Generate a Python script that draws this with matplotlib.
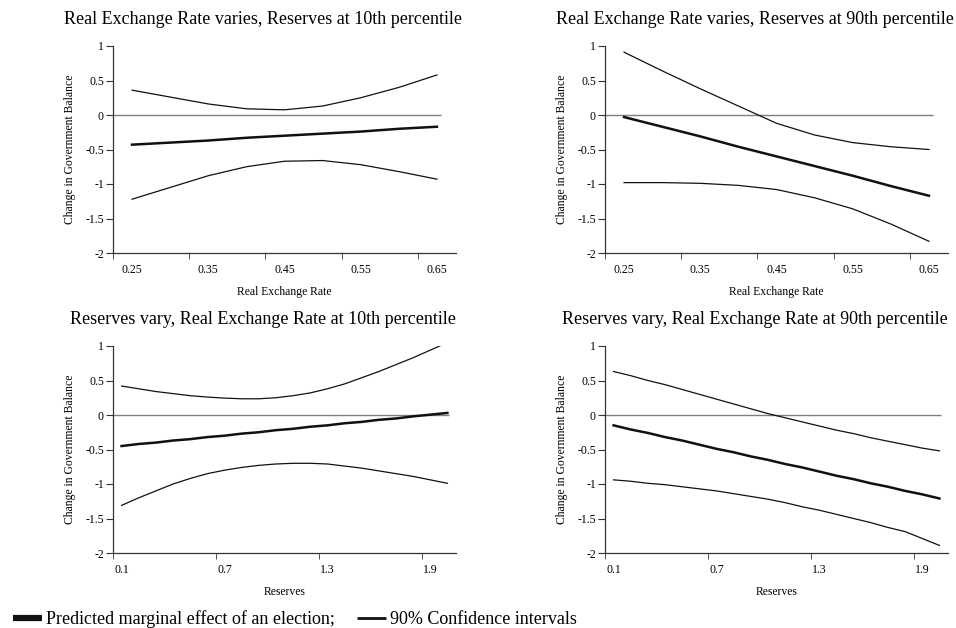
import matplotlib
matplotlib.use("Agg")
import matplotlib.pyplot as plt
from matplotlib.lines import Line2D
import numpy as np

plt.rcParams['font.family'] = ['Liberation Serif', 'DejaVu Serif']

# real exchange rate grid (top panels)
rer = [0.25, 0.30, 0.35, 0.40, 0.45, 0.50, 0.55, 0.60, 0.65]
# reserves grid (bottom panels)
res = [0.1, 0.2, 0.3, 0.4, 0.5, 0.6, 0.7, 0.8, 0.9, 1.0,
       1.1, 1.2, 1.3, 1.4, 1.5, 1.6, 1.7, 1.8, 1.9, 2.0]

# Real exchange rate varies, reserves at 10th percentile
tl_mid = [-0.43, -0.40, -0.37, -0.33, -0.30, -0.27, -0.24, -0.20, -0.17]
tl_hi = [0.36, 0.26, 0.16, 0.09, 0.075, 0.13, 0.25, 0.40, 0.58]
tl_lo = [-1.22, -1.05, -0.88, -0.75, -0.67, -0.66, -0.72, -0.82, -0.93]

# Real exchange rate varies, reserves at 90th percentile
tr_mid = [-0.03, -0.17, -0.31, -0.46, -0.60, -0.74, -0.88, -1.03, -1.17]
tr_hi = [0.91, 0.64, 0.38, 0.13, -0.12, -0.29, -0.40, -0.46, -0.50]
tr_lo = [-0.98, -0.98, -0.99, -1.02, -1.08, -1.20, -1.36, -1.58, -1.83]

# Reserves vary, real exchange rate at 10th percentile
bl_mid = [-0.45, -0.42, -0.40, -0.37, -0.35, -0.32, -0.30, -0.27, -0.25, -0.22,
          -0.20, -0.17, -0.15, -0.12, -0.10, -0.07, -0.05, -0.02, 0.005, 0.03]
bl_hi = [0.42, 0.38, 0.34, 0.31, 0.28, 0.26, 0.245, 0.235, 0.235, 0.25,
         0.28, 0.32, 0.38, 0.45, 0.54, 0.63, 0.73, 0.83, 0.94, 1.05]
bl_lo = [-1.31, -1.20, -1.10, -1.00, -0.92, -0.85, -0.80, -0.76, -0.73, -0.71,
         -0.70, -0.70, -0.71, -0.74, -0.77, -0.81, -0.85, -0.89, -0.94, -0.99]

# Reserves vary, real exchange rate at 90th percentile
br_mid = [-0.15, -0.21, -0.26, -0.32, -0.37, -0.43, -0.49, -0.54, -0.60, -0.65,
          -0.71, -0.76, -0.82, -0.88, -0.93, -0.99, -1.04, -1.10, -1.15, -1.21]
br_hi = [0.63, 0.57, 0.50, 0.44, 0.37, 0.30, 0.23, 0.16, 0.09, 0.02,
         -0.04, -0.10, -0.16, -0.22, -0.27, -0.33, -0.38, -0.43, -0.48, -0.52]
br_lo = [-0.94, -0.96, -0.99, -1.01, -1.04, -1.07, -1.10, -1.14, -1.18, -1.22,
         -1.27, -1.33, -1.38, -1.44, -1.50, -1.56, -1.63, -1.69, -1.79, -1.89]

rer_labels = ['0.25', '0.35', '0.45', '0.55', '0.65']
res_labels = ['0.1', '0.7', '1.3', '1.9']
yticks = [1, 0.5, 0, -0.5, -1, -1.5, -2]
ylabels = ['1', '0.5', '0', '-0.5', '-1', '-1.5', '-2']

panels = [
    ("Real Exchange Rate varies, Reserves at 10th percentile", rer, tl_mid, tl_hi, tl_lo,
     "Real Exchange Rate", rer_labels, 2),
    ("Real Exchange Rate varies, Reserves at 90th percentile", rer, tr_mid, tr_hi, tr_lo,
     "Real Exchange Rate", rer_labels, 2),
    ("Reserves vary, Real Exchange Rate at 10th percentile", res, bl_mid, bl_hi, bl_lo,
     "Reserves", res_labels, 6),
    ("Reserves vary, Real Exchange Rate at 90th percentile", res, br_mid, br_hi, br_lo,
     "Reserves", res_labels, 6),
]

W, H = 956, 628
fig = plt.figure(figsize=(W / 100, H / 100), dpi=100)

# axes boxes in pixels: left, top
boxes = [(113, 46), (605, 46), (113, 346), (605, 346)]
aw, ah = 343, 207

for (title, x, mid, hi, lo, xlab, xtl, every), (px, py) in zip(panels, boxes):
    ax = fig.add_axes([px / W, 1 - (py + ah) / H, aw / W, ah / H])
    step = x[1] - x[0]
    lo_lim = x[0] - step / 2
    hi_lim = x[-1] + step / 2
    ax.set_xlim(lo_lim, hi_lim)
    ax.set_ylim(-2, 1)

    ax.hlines(0, lo_lim, x[-1] + step * 0.1, color='#7f7f7f', lw=1.0)
    ax.plot(x, hi, color='#111111', lw=0.9)
    ax.plot(x, lo, color='#111111', lw=0.9)
    ax.plot(x, mid, color='#111111', lw=1.8)

    for s in ['top', 'right']:
        ax.spines[s].set_visible(False)
    for s in ['left', 'bottom']:
        ax.spines[s].set_color('#333333')
        ax.spines[s].set_linewidth(0.9)

    # category style axis: labels at centres, tick marks at boundaries
    lab_pos = x[::every]
    ax.set_xticks(lab_pos)
    ax.set_xticklabels(xtl, fontsize=8.5)
    ax.tick_params(axis='x', which='major', length=0, pad=8)
    ax.set_xticks([p - step / 2 for p in lab_pos], minor=True)
    ax.tick_params(axis='x', which='minor', length=4, direction='out', color='#333333')

    ax.set_yticks(yticks)
    ax.set_yticklabels(ylabels, fontsize=8.5)
    ax.tick_params(axis='y', length=5, direction='out', color='#333333', pad=1.5)

    ax.set_ylabel("Change in Government Balance", fontsize=8.4, labelpad=7)
    ax.set_xlabel(xlab, fontsize=8.4, labelpad=7)

    fig.text((px + aw / 2 - 22) / W, 1 - (py - 26) / H, title,
             ha='center', va='center', fontsize=13)

handles = [Line2D([], [], color='#111111', lw=4.5, solid_capstyle='butt'),
           Line2D([], [], color='#111111', lw=2, solid_capstyle='butt')]
fig.legend(handles, ["Predicted marginal effect of an election;", "90% Confidence intervals"],
           loc='center left', bbox_to_anchor=(13 / W, 1 - 619 / H), ncol=2, frameon=False,
           fontsize=13, handlelength=1.6, handletextpad=0.25, columnspacing=1.2,
           borderaxespad=0, borderpad=0)

fig.savefig("out.png", dpi=100)
